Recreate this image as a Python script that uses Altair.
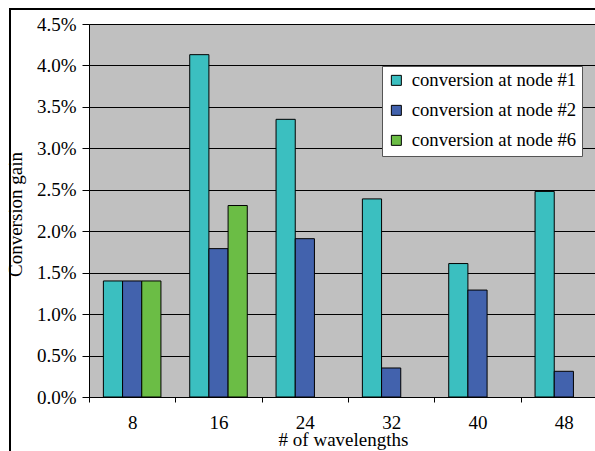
import altair as alt
import pandas as pd

# Number of wavelengths per scenario
wavelengths = ["8", "16", "24", "32", "40", "48"]

# Conversion gain (percent) per conversion node; None where not simulated
node1 = [1.40, 4.13, 3.35, 2.39, 1.61, 2.48]
node2 = [1.40, 1.79, 1.91, 0.35, 1.29, 0.31]
node6 = [1.40, 2.31, None, None, None, None]

series_names = ["conversion at node #1", "conversion at node #2", "conversion at node #6"]
series_colors = ["#3BBFC0", "#4262AD", "#6BBD45"]

rows = []
for name, vals in zip(series_names, [node1, node2, node6]):
    for w, v in zip(wavelengths, vals):
        if v is not None:
            rows.append({"wavelengths": w, "series": name, "gain": v / 100.0})
df = pd.DataFrame(rows)

SERIF = "Liberation Serif, Times New Roman, serif"
W, H = 506, 373

bars = alt.Chart(df).mark_bar(stroke="black", strokeWidth=1).encode(
    x=alt.X(
        "wavelengths:N",
        sort=wavelengths,
        scale=alt.Scale(paddingInner=0, paddingOuter=0, range=[0, 518]),
        axis=alt.Axis(
            title="# of wavelengths",
            labelAngle=0,
            tickBand="extent",
            grid=False,
            tickSize=5,
            labelPadding=11,
            titleY=42,
            titleBaseline="middle",
            titleX=254,
        ),
    ),
    xOffset=alt.XOffset(
        "series:N",
        sort=series_names,
        scale=alt.Scale(paddingInner=0, paddingOuter=0.75, domain=series_names),
    ),
    y=alt.Y(
        "gain:Q",
        scale=alt.Scale(domain=[0, 0.045], nice=False),
        axis=alt.Axis(
            title="Conversion gain",
            format=".1%",
            values=[i * 0.005 for i in range(10)],
            tickSize=7,
            labelPadding=6,
            titleX=-64,
            titleY=190,
            titleAlign="center",
        ),
    ),
    color=alt.Color(
        "series:N",
        sort=series_names,
        scale=alt.Scale(domain=series_names, range=series_colors),
        legend=alt.Legend(
            title=None,
            orient="none",
            legendX=293,
            legendY=42,
            symbolType="square",
            symbolSize=100,
            symbolStrokeColor="black",
            symbolStrokeWidth=1,
            labelFont=SERIF,
            labelFontSize=18.7,
            labelColor="black",
            labelLimit=300,
            rowPadding=10,
            fillColor="white",
            strokeColor="#555555",
            padding=5,
            labelOffset=6,
        ),
    ),
)

# Outer frame around the whole figure
frame = alt.Chart(df).mark_rect(
    fill=None, stroke="black", strokeWidth=1.5
).encode(
    x=alt.value(-79), x2=alt.value(600), y=alt.value(-15), y2=alt.value(450)
)

chart = (
    alt.layer(frame, bars)
    .properties(
        width=W,
        height=H,
        padding={"left": 89, "top": 24, "right": 0, "bottom": 54},
        autosize=alt.AutoSizeParams(type="none"),
        background="white",
    )
    .configure_view(fill="#C0C0C0", stroke="#808080", strokeWidth=1)
    .configure_axis(
        labelFont=SERIF,
        titleFont=SERIF,
        labelFontSize=19,
        titleFontSize=19,
        titleFontWeight="normal",
        labelColor="black",
        titleColor="black",
        domainColor="black",
        tickColor="black",
        gridColor="black",
        gridWidth=1,
    )
)

chart.save("out.html", embed_options={"renderer": "svg", "actions": False})
